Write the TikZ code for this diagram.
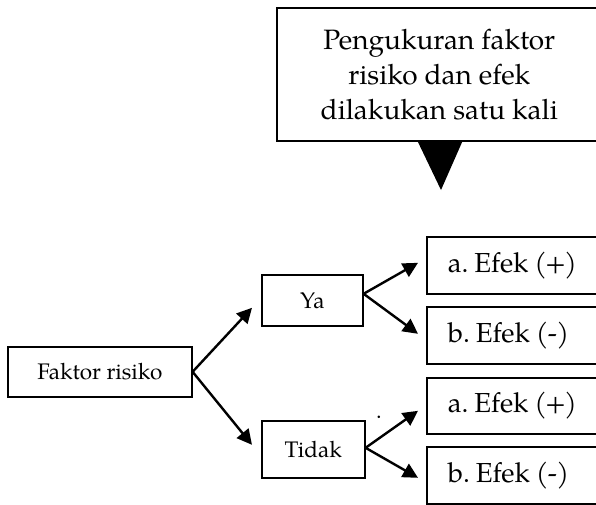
\documentclass[tikz,border=0pt]{standalone}
\usepackage{fontspec}
\setmainfont{TeX Gyre Pagella}
\usetikzlibrary{arrows.meta,calc}
% tighter parenthesised signs for the outcome labels
\newcommand{\signpos}{(\kern-1.8pt+\kern-1.8pt)}
\newcommand{\signneg}{(\kern-0.5pt-\kern-0.5pt)}
\newcommand{\effectspacing}{\frenchspacing\spaceskip=6pt plus 2pt\relax}
\tikzset{
  box/.style={draw=black, line width=1.6pt, rectangle, anchor=north west, inner sep=0pt},
  bigtext/.style={font=\fontsize{28}{35}\selectfont\frenchspacing},
  smalltext/.style={font=\fontsize{22.5}{27}\selectfont},
  effect/.style={box, font=\fontsize{27.5}{33}\selectfont,
                 execute at begin node=\effectspacing,
                 minimum height=57pt, text width=160pt, align=left, inner xsep=21pt},
  link/.style={line width=2.4pt, -{Triangle[length=15pt,width=15pt]}}
}
\begin{document}
\begin{tikzpicture}[x=1pt,y=-1pt]
\useasboundingbox (0,0) rectangle (596,504);

% callout box with its pointer
\node[box, bigtext, minimum width=325pt, minimum height=133pt, align=center]
  (note) at (276,7) {Pengukuran faktor\\risiko dan efek\\dilakukan satu kali};
\fill (417,140) -- (463,140) -- (441,190) -- cycle;

% tree of factor and outcomes
\node[box, smalltext, minimum width=184pt, minimum height=50pt] (faktor) at (7,346) {Faktor risiko};
\node[box, smalltext, minimum width=101pt, minimum height=51pt] (ya) at (261,274) {Ya};
\node[box, smalltext, minimum width=103pt, minimum height=57pt] (tidak) at (261,420) {Tidak};

\node[effect, minimum height=57pt] (ya1) at (426,236) {a. Efek \signpos};
\node[effect, minimum height=57pt] (ya2) at (426,306) {b. Efek \signneg};
\node[effect, minimum height=56pt] (td1) at (426,377) {a. Efek \signpos};
\node[effect, minimum height=57pt] (td2) at (426,446) {b. Efek \signneg};

\node[smalltext, inner sep=0pt] (dot) at (379,417) {.};

\coordinate (yaIn)  at ($(ya.west)+(-9,7.5)$);
\coordinate (tdIn)  at ($(tidak.west)+(-9,-4.5)$);
\draw[link] (faktor.east) -- (yaIn);
\draw[link] (faktor.east) -- (tdIn);

\coordinate (ya1In) at ($(ya1.west)+(-8,-2.5)$);
\coordinate (ya2In) at ($(ya2.west)+(-8,-1.5)$);
\coordinate (td1In) at ($(td1.west)+(-8,5)$);
\coordinate (td2In) at ($(td2.west)+(-8,2.5)$);
\draw[link] ($(ya.east)+(0,-6.5)$) -- (ya1In);
\draw[link] ($(ya.east)+(0,-6.5)$) -- (ya2In);
\draw[link] ($(tidak.east)+(0,-1.5)$) -- (td1In);
\draw[link] ($(tidak.east)+(0,-1.5)$) -- (td2In);
\end{tikzpicture}
\end{document}
